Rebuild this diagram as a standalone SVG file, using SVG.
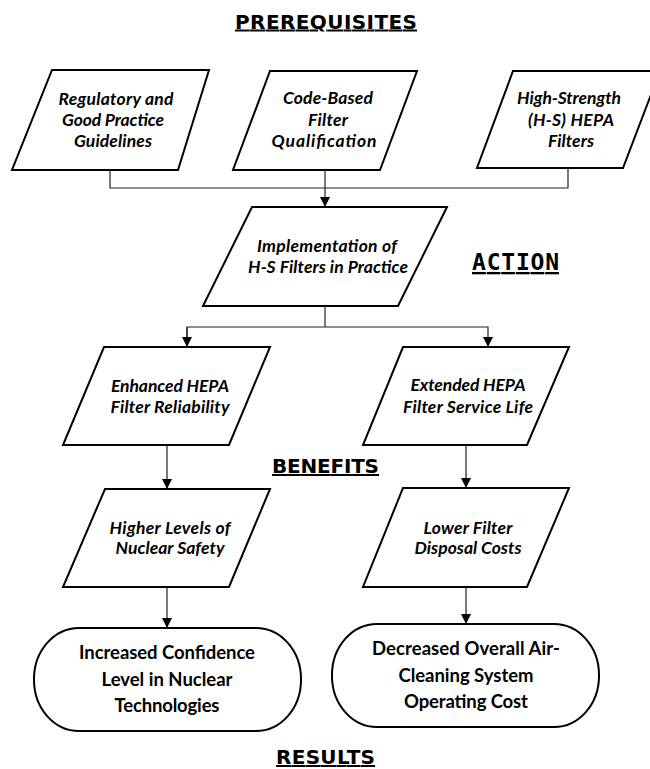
<svg xmlns="http://www.w3.org/2000/svg" width="650" height="769" viewBox="0 0 650 769">
<defs>
<marker id="arr" viewBox="0 0 10 10" refX="10" refY="5" markerWidth="10" markerHeight="10" markerUnits="userSpaceOnUse" orient="auto">
<path d="M0,0 L10,5 L0,10 z" fill="#000"/>
</marker>
<style>
.shape{fill:#fff;stroke:#000;stroke-width:2;stroke-linejoin:miter}
.conn{fill:none;stroke:#222;stroke-width:1.2}
.it{font-family:Lato,"Open Sans","Liberation Sans",sans-serif;font-weight:bold;font-style:italic;font-size:17.5px;fill:#000;text-anchor:middle}
.bd{font-family:Lato,"Open Sans","Liberation Sans",sans-serif;font-weight:bold;font-size:18.5px;fill:#000;text-anchor:middle}
.sec{font-family:"DejaVu Sans",sans-serif;font-weight:bold;font-size:20px;fill:#000;text-decoration:underline}
.mono{font-family:"DejaVu Sans Mono","Liberation Mono",monospace;font-weight:bold;font-size:23px;fill:#000;text-decoration:underline}
</style>
</defs>
<rect width="650" height="769" fill="#fff"/>

<g id="labels">
<text class="sec" x="235" y="28.5" textLength="182">PREREQUISITES</text>
<text class="mono" x="472" y="270" textLength="87">ACTION</text>
<text class="sec" x="272" y="473" textLength="107">BENEFITS</text>
<text class="sec" x="276" y="764" textLength="99">RESULTS</text>
</g>

<g id="connectors">
<polyline class="conn" points="110,170 110,188 568,188 568,168"/>
<line class="conn" x1="325" y1="170" x2="325" y2="207" marker-end="url(#arr)"/>
<line class="conn" x1="325" y1="306" x2="325" y2="327"/>
<polyline class="conn" points="187,347 187,327 488,327 488,347" marker-end="url(#arr)"/>
<line class="conn" x1="187" y1="327" x2="187" y2="347" marker-end="url(#arr)"/>
<line class="conn" x1="167" y1="445" x2="167" y2="489" marker-end="url(#arr)"/>
<line class="conn" x1="466" y1="445" x2="466" y2="488" marker-end="url(#arr)"/>
<line class="conn" x1="167" y1="587" x2="167" y2="628" marker-end="url(#arr)"/>
<line class="conn" x1="466" y1="587" x2="466" y2="624" marker-end="url(#arr)"/>
</g>

<g id="n-regulatory">
<polygon class="shape" points="52,70 209,70 178,170 12,170"/>
<text class="it" x="116" y="105" textLength="115">Regulatory and</text>
<text class="it" x="113" y="126" textLength="102">Good Practice</text>
<text class="it" x="113" y="147" textLength="78">Guidelines</text>
</g>

<g id="n-codebased">
<polygon class="shape" points="270,71 417,71 380,170 233,170"/>
<text class="it" x="328" y="104" textLength="90">Code-Based</text>
<text class="it" x="328" y="126" textLength="40">Filter</text>
<text class="it" x="324" y="147" textLength="105">Qualification</text>
</g>

<g id="n-highstrength">
<polygon class="shape" points="513,71 660,71 623,168 477,168"/>
<text class="it" x="569" y="104" textLength="104">High-Strength</text>
<text class="it" x="571" y="126" textLength="86">(H-S) HEPA</text>
<text class="it" x="571" y="147" textLength="46">Filters</text>
</g>

<g id="n-implementation">
<polygon class="shape" points="252,207 447,207 398,306 203,306"/>
<text class="it" x="327" y="252" textLength="140">Implementation of</text>
<text class="it" x="328" y="273" textLength="160">H-S Filters in Practice</text>
</g>

<g id="n-enhanced">
<polygon class="shape" points="104,347 270,347 229,445 63,445"/>
<text class="it" x="170" y="392" textLength="118">Enhanced HEPA</text>
<text class="it" x="170" y="413" textLength="119">Filter Reliability</text>
</g>

<g id="n-extended">
<polygon class="shape" points="403,347 569,347 527,445 363,445"/>
<text class="it" x="468" y="391" textLength="115">Extended HEPA</text>
<text class="it" x="468" y="413" textLength="130">Filter Service Life</text>
</g>

<g id="n-higher">
<polygon class="shape" points="105,489 270,489 229,587 63,587"/>
<text class="it" x="170" y="534" textLength="121">Higher Levels of</text>
<text class="it" x="170" y="554" textLength="109">Nuclear Safety</text>
</g>

<g id="n-lower">
<polygon class="shape" points="403,488 569,488 527,587 363,587"/>
<text class="it" x="468" y="534" textLength="89">Lower Filter</text>
<text class="it" x="468" y="554" textLength="107">Disposal Costs</text>
</g>

<g id="n-confidence">
<rect class="shape" x="34" y="628" width="267" height="103" rx="45" ry="51"/>
<text class="bd" x="167" y="659" textLength="176">Increased Confidence</text>
<text class="bd" x="167" y="686" textLength="131">Level in Nuclear</text>
<text class="bd" x="167" y="712" textLength="105">Technologies</text>
</g>

<g id="n-cost">
<rect class="shape" x="332" y="624" width="267" height="103" rx="45" ry="51"/>
<text class="bd" x="466" y="655" textLength="188">Decreased Overall Air-</text>
<text class="bd" x="466" y="682" textLength="135">Cleaning System</text>
<text class="bd" x="466" y="708" textLength="124">Operating Cost</text>
</g>
</svg>
